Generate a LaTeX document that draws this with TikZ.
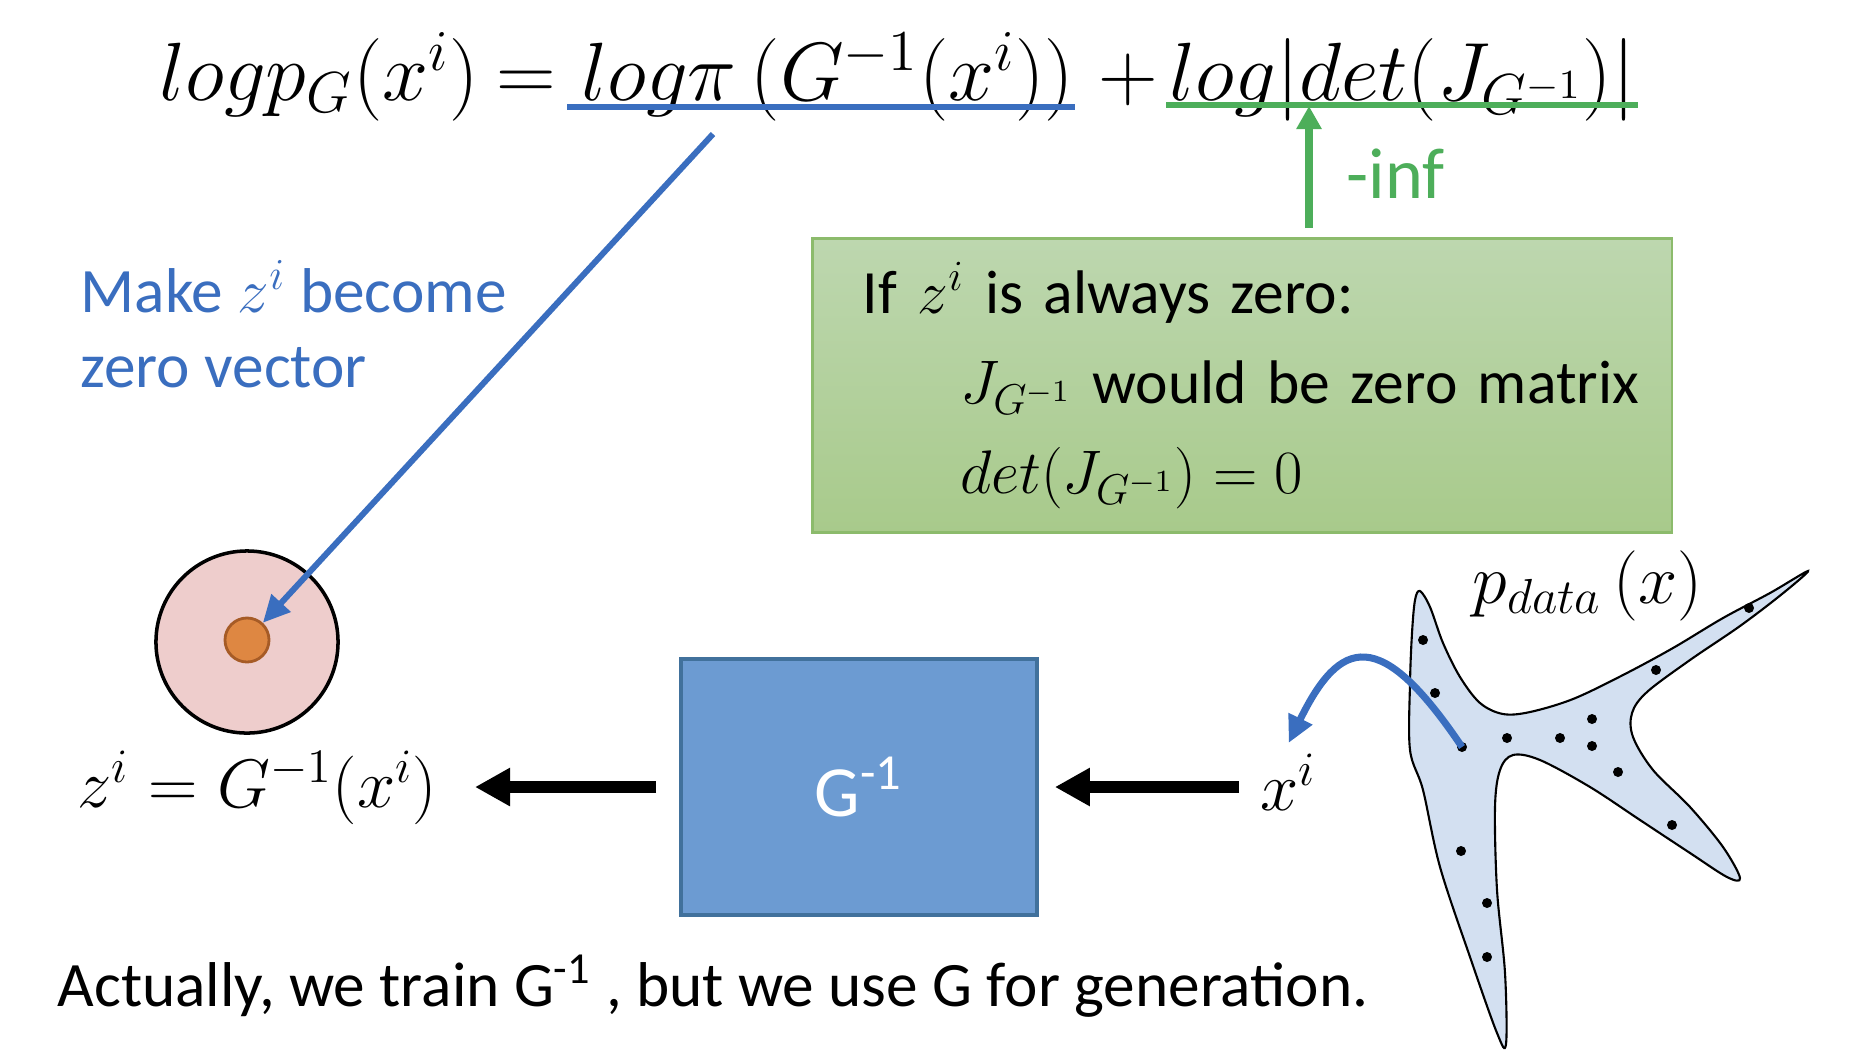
\documentclass[tikz,border=0pt]{standalone}
\usepackage{fix-cm}
\usepackage[no-math]{fontspec}
\setmainfont{Carlito}
\usetikzlibrary{arrows.meta,positioning,calc}
\definecolor{flblue}{HTML}{3A6EBF}
\definecolor{flgreen}{HTML}{4DAE5A}
\definecolor{flboxtop}{HTML}{BDD7AF}
\definecolor{flboxbot}{HTML}{A8CA8B}
\definecolor{flboxline}{HTML}{8CBB6C}
\definecolor{flgfill}{HTML}{6C9BD2}
\definecolor{flgline}{HTML}{41719C}
\definecolor{flpink}{HTML}{EECDCC}
\definecolor{florange}{HTML}{DE8742}
\definecolor{florline}{HTML}{A65B26}
\definecolor{flstar}{HTML}{D3E0F1}

\begin{document}
\begin{tikzpicture}[x=0.01cm, y=-0.01cm,
  txt/.style={font=\fontsize{18}{21.3}\selectfont, inner sep=0pt, anchor=base west},
  eqn/.style={font=\fontsize{23.5}{28}\selectfont, inner sep=0pt, anchor=base west},
  smalleqn/.style={font=\fontsize{19.5}{23}\selectfont, inner sep=0pt, anchor=base west},
  uline/.style={line width=1.8pt},
  thickarr/.style={-{Triangle[length=0.35cm,width=0.36cm]}, line width=3.4pt},
  bluearr/.style={-{Triangle[length=0.27cm,width=0.25cm]}, flblue, line width=1.7pt},
  greenarr/.style={-{Triangle[length=0.23cm,width=0.24cm]}, flgreen, line width=2.3pt},
  dotpt/.style={circle, fill=black, inner sep=0pt, minimum size=0.1cm},
]
\useasboundingbox (0,0) rectangle (1852,1060);

% Formel oben, in Teilen
\node[eqn] (fA)    at (159,100)  {$logp_G(x^i)$};
\node[eqn] (fEq)   at (496,100)  {$=$};
\node[eqn] (fB)    at (581,100)  {$log\pi\,\bigl(G^{-1}(x^i)\bigr)$};
\node[eqn] (fPlus) at (1098,100) {$+$};
\node[eqn] (fC)    at (1169,100) {$log|det(J_{G^{-1}})|$};

\draw[uline, flblue]  ($(fB.base west)+(-14,7)$) -- ($(fB.base east)+(0,7)$);
\draw[uline, flgreen] ($(fC.base west)+(-3,5)$) -- ($(fC.base east)+(2,5)$);

% Kasten rechts
\node[draw=flboxline, line width=0.8pt, top color=flboxtop, bottom color=flboxbot,
      anchor=north west, minimum width=8.59cm, minimum height=2.94cm, text width=8cm,
      inner xsep=0.295cm, align=left, font=\fontsize{17.5}{25.6}\selectfont] (zbox) at (811,237)
  {\hspace*{0.21cm}If $z^i$ is always zero:\\\hspace*{1.18cm}$J_{G^{-1}}$ would be zero matrix\\\hspace*{1.18cm}$det(J_{G^{-1}}) = 0$};

\coordinate (infTip) at (1309,106);
\draw[greenarr, shorten <=0.09cm] (zbox.north -| infTip) -- (infTip);
\node[txt, font=\fontsize{20.5}{24}\selectfont, text=flgreen] (inf) at (1346,198) {-inf};

% links: Text und Verteilung
\node[txt, text=flblue, align=left] (maketxt) at (80,387) {Make $z^i$ become\\zero vector};

\node[circle, draw=black, line width=1pt, fill=flpink, minimum size=1.82cm, inner sep=0pt] (prior) at (247,642) {};
\node[circle, draw=florline, line width=0.8pt, fill=florange, minimum size=0.44cm, inner sep=0pt] (zero) at (247,640) {};

\coordinate (piTail) at (713,134);
\draw[bluearr] (piTail) -- (zero);

% mittlere Reihe
\node[smalleqn] (zform) at (77,807) {$z^i = G^{-1}(x^i)$};
\node[draw=flgline, line width=1pt, fill=flgfill, text=white, minimum width=3.56cm, minimum height=2.56cm,
      font=\fontsize{20.5}{24}\selectfont] (ginv) at (859,787) {G\textsuperscript{-1}};
\node[smalleqn] (xi) at (1260,810) {$x^i$};

\draw[thickarr, shorten <=0.23cm, shorten >=0.37cm] (ginv.west) -- (ginv.west -| zform.east);
\draw[thickarr, shorten <=0.21cm, shorten >=0.16cm] (xi.west |- ginv.east) -- (ginv.east);

% Datenverteilung
\draw[black, line width=0.6pt, fill=flstar] plot[smooth cycle, tension=0.55] coordinates {
  (1420,591) (1430,607) (1443,643) (1460,677) (1480,703) (1503,714) (1530,712) (1573,699)
  (1623,675) (1673,648) (1723,618) (1770,593) (1808,571)
  (1782,594) (1740,626) (1690,660) (1647,692) (1632,713) (1633,737) (1653,770) (1690,807)
  (1723,847) (1740,878)
  (1727,877) (1690,853) (1640,820) (1590,787) (1540,760) (1513,755) (1500,770) (1495,807)
  (1497,890) (1505,973) (1506,1044)
  (1497,1033) (1470,957) (1440,867) (1423,790) (1410,750) (1410,683) (1412,633) (1415,600)};
\foreach \px/\py [count=\k] in {1423/640, 1435/693, 1462/747, 1507/738, 1560/738, 1592/719, 1592/746,
    1618/772, 1656/670, 1749/608, 1672/825, 1461/851, 1487/903, 1487/957}
  \node[dotpt] (d\k) at (\px,\py) {};
\node[smalleqn, font=\fontsize{20}{24}\selectfont] (pdata) at (1472,603) {$p_{data}\,(x)$};

\draw[bluearr, line width=2pt] (d3.center) .. controls (1380,625) and (1340,638) .. ([yshift=0.1cm]xi.north);

% unten
\node[txt] (note) at (57,1006) {Actually, we train G\textsuperscript{-1} , but we use G for generation.};

\end{tikzpicture}
\end{document}
